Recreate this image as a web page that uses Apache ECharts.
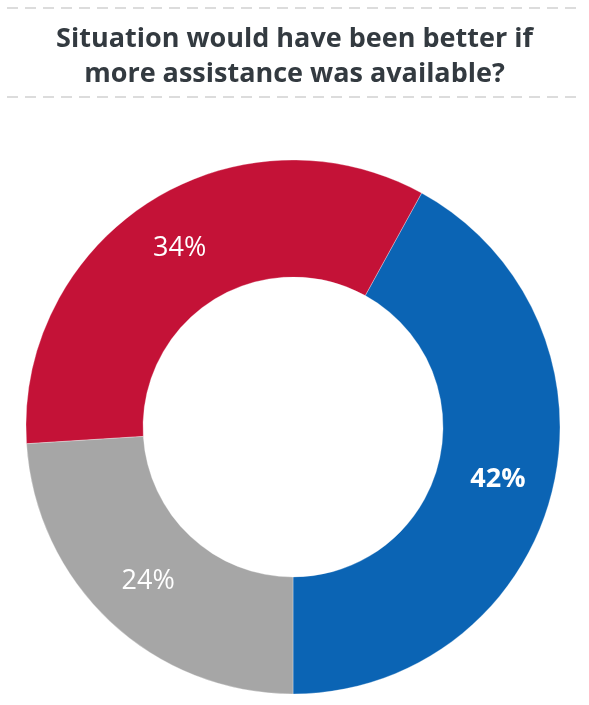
<!DOCTYPE html>
<html>
<head>
<meta charset="utf-8">
<script src="https://cdn.jsdelivr.net/npm/echarts@6/dist/echarts.min.js"></script>
<style>
html,body{margin:0;padding:0;background:#fff;}
#chart{width:589px;height:705px;}
</style>
</head>
<body>
<div id="chart"></div>
<script>
var titleText = "Situation would have been better if\nmore assistance was available?";
var categories = ["Yes", "No", "Not sure"];
var values = [42, 34, 24];
var colors = ["#0B64B4", "#C41237", "#A6A6A6"];
var labelWeights = ["bold", "normal", "normal"];

var chart = echarts.init(document.getElementById('chart'), null, {renderer: 'canvas'});
var data = categories.map(function (c, i) {
  return {
    name: c,
    value: values[i],
    itemStyle: {color: colors[i]},
    label: {fontWeight: labelWeights[i]}
  };
});
chart.setOption({
  animation: false,
  title: {
    text: titleText,
    left: 'center',
    top: 17,
    textStyle: {
      fontFamily: 'Open Sans',
      fontWeight: 'bold',
      fontSize: 27,
      lineHeight: 35,
      color: '#333A40'
    }
  },
  graphic: [
    {type: 'line', shape: {x1: 7, y1: 8, x2: 582, y2: 8},
     style: {stroke: '#DCDCDC', lineWidth: 2, lineDash: [11, 7]}},
    {type: 'line', shape: {x1: 7, y1: 97, x2: 582, y2: 97},
     style: {stroke: '#DCDCDC', lineWidth: 2, lineDash: [11, 7]}}
  ],
  series: [{
    type: 'pie',
    center: [293, 427],
    radius: [150, 267],
    startAngle: 270,
    clockwise: false,
    silent: true,
    itemStyle: {borderColor: 'rgba(255,255,255,0.6)', borderWidth: 0.5},
    label: {
      show: true,
      position: 'inside',
      formatter: '{c}%',
      color: '#fff',
      fontFamily: 'Open Sans',
      fontSize: 27
    },
    labelLine: {show: false},
    data: data
  }]
});
</script>
</body>
</html>
